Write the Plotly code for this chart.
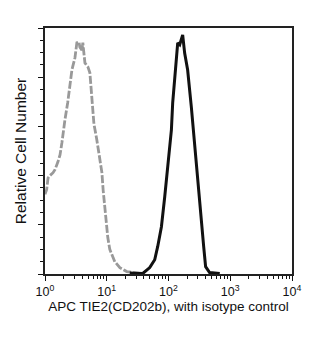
import plotly.graph_objects as go

# Isotype control (gray dashed)
iso_x = [1.0, 1.065, 1.12, 1.2, 1.35, 1.45, 1.62, 1.75, 1.88, 1.95, 2.1, 2.33, 2.53, 2.73, 3.05, 3.28,
         3.54, 3.67, 3.96, 4.1, 4.43, 4.95, 5.33, 5.75, 6.2, 6.9, 7.75, 8.35, 8.75, 9.2, 9.8, 10.4,
         11.2, 12.1, 13.5, 16.3, 21.1, 26.4, 34.0]
iso_y = [1.62, 1.72, 1.95, 2.0, 2.06, 2.12, 2.28, 2.42, 2.67, 2.83, 3.13, 3.48, 3.80, 4.15, 4.39, 4.70,
         4.72, 4.61, 4.55, 4.70, 4.29, 4.21, 4.09, 3.60, 3.05, 2.73, 2.32, 2.06, 1.70, 1.38, 1.10, 0.74,
         0.50, 0.38, 0.25, 0.13, 0.05, 0.03, 0.01]

# TIE2 stained (black)
tie_x = [23.6, 38.3, 49.7, 59.8, 66.9, 76.8, 86.9, 97.1, 111.4, 116.9, 126, 134, 141, 152, 161.6,
         169.6, 182.6, 204, 234, 265, 296, 340, 371, 399, 463, 676]
tie_y = [0.02, 0.01, 0.13, 0.29, 0.56, 0.96, 1.57, 2.18, 2.93, 3.48, 4.0, 4.49, 4.70, 4.66, 4.76,
         4.86, 4.49, 4.15, 3.40, 2.59, 1.92, 1.11, 0.56, 0.15, 0.03, 0.01]

x_tickvals = [1, 10, 100, 1000, 10000]
x_ticktext = ["10<sup>0</sup>", "10<sup>1</sup>", "10<sup>2</sup>", "10<sup>3</sup>", "10<sup>4</sup>"]
x_minor = [m * 10 ** d for d in range(4) for m in range(2, 10)]

fig = go.Figure()
fig.add_trace(go.Scatter(x=iso_x, y=iso_y, mode="lines",
                         line=dict(color="#999999", width=2.8, dash="8px,2px"),
                         showlegend=False, hoverinfo="skip"))
fig.add_trace(go.Scatter(x=tie_x, y=tie_y, mode="lines",
                         line=dict(color="#111111", width=3),
                         showlegend=False, hoverinfo="skip"))

font = "Liberation Sans, Arial, sans-serif"
fig.update_layout(
    width=324, height=350,
    margin=dict(l=45, r=31.5, t=28, b=75.5),
    paper_bgcolor="white", plot_bgcolor="white",
    font=dict(family=font, color="#111111"),
    xaxis=dict(type="log", range=[0, 4], tickmode="array", tickvals=x_tickvals, ticktext=x_ticktext,
               ticks="outside", ticklen=5, tickwidth=1.2, tickcolor="#111111",
               minor=dict(tickmode="array", tickvals=x_minor, ticks="outside", ticklen=3,
                          tickwidth=1, tickcolor="#111111"),
               showline=True, linecolor="#222222", linewidth=1.5, mirror=True,
               showgrid=False, zeroline=False,
               tickfont=dict(size=12.5),
               title=dict(text="APC TIE2(CD202b), with isotype control", font=dict(size=13.5), standoff=1)),
    yaxis=dict(range=[0, 5], tickmode="linear", tick0=0, dtick=1, showticklabels=False,
               ticks="outside", ticklen=5, tickwidth=1.2, tickcolor="#111111",
               minor=dict(dtick=0.25, ticks="outside", ticklen=3, tickwidth=1, tickcolor="#111111"),
               showline=True, linecolor="#222222", linewidth=1.5, mirror=True,
               showgrid=False, zeroline=False,
               title=dict(text="Relative Cell Number", font=dict(size=15.5), standoff=8)),
)

fig.write_html("out.html")
